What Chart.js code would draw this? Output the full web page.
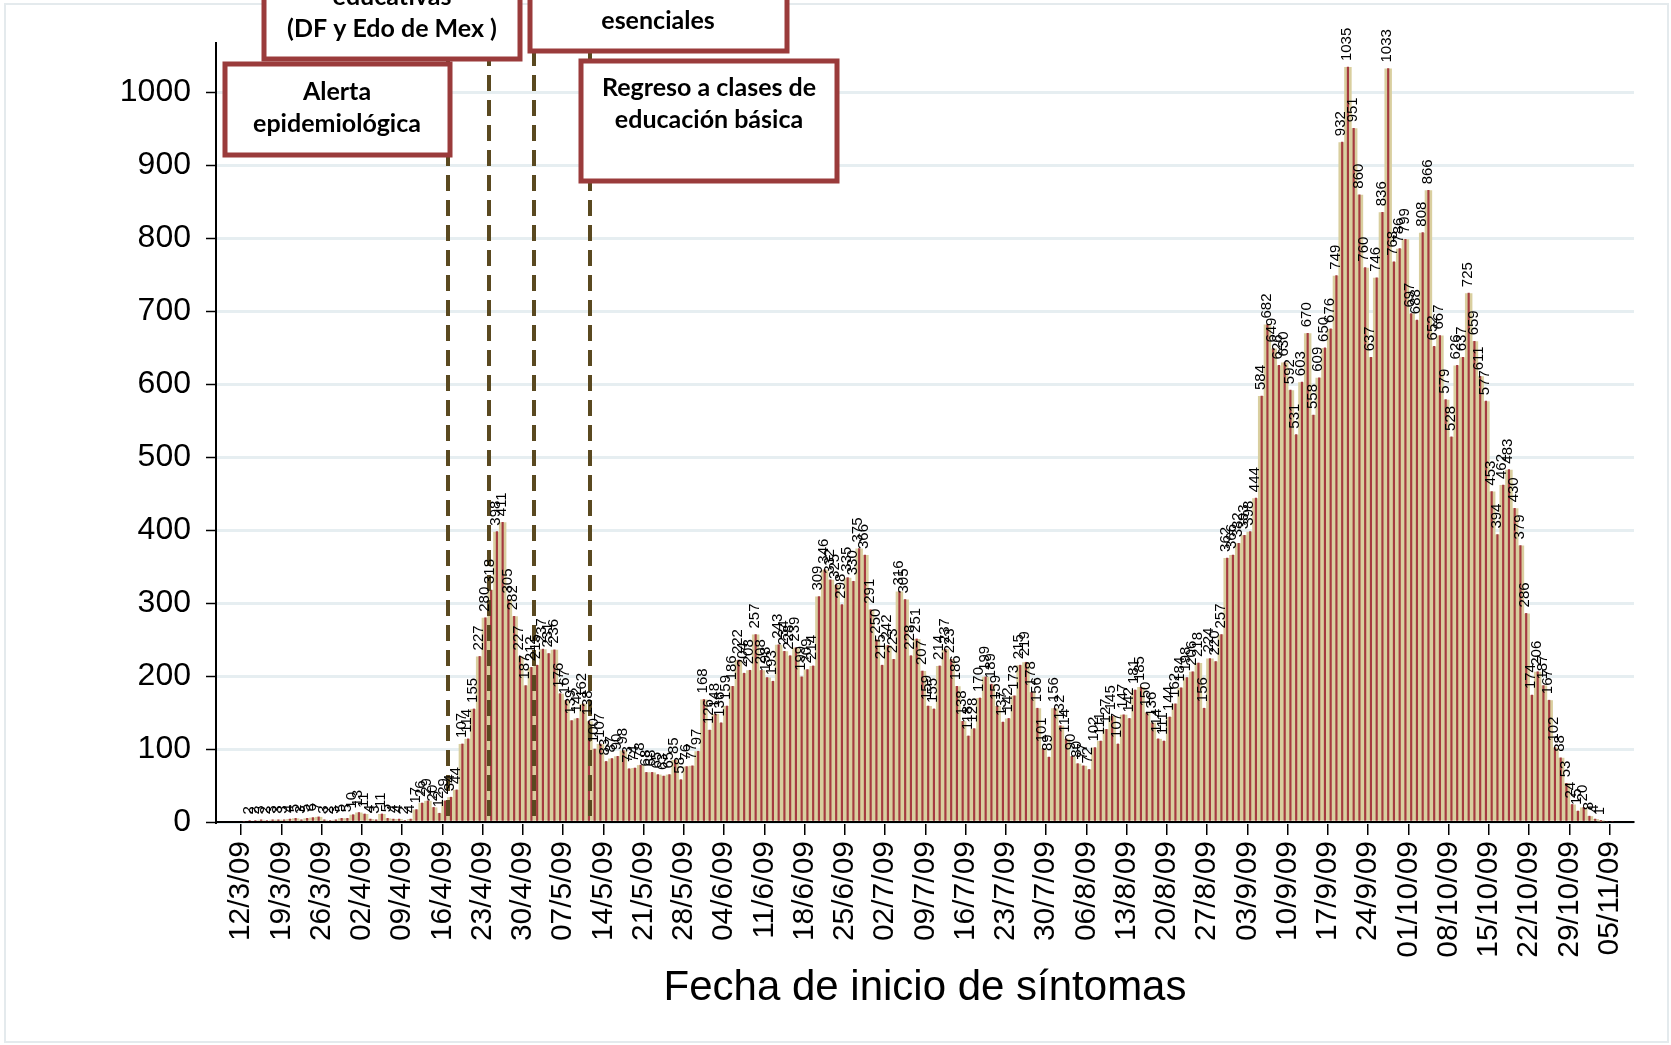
<!DOCTYPE html>
<html>
<head>
<meta charset="utf-8">
<script src="https://cdn.jsdelivr.net/npm/chart.js@4.4.1/dist/chart.umd.min.js"></script>
<style>
  html, body { margin: 0; padding: 0; background: #fff; }
  #wrap { width: 1671px; height: 1045px; }
</style>
</head>
<body>
<div id="wrap"><canvas id="casesChart" width="1671" height="1045"></canvas></div>
<script>
  // casos diarios por fecha de inicio de sintomas, desde 12/3/09
  const casesMar = [0, 2, 2, 3, 2, 3, 3, 3, 4, 5, 3, 5, 6, 7, 3, 2, 3, 5, 5, 10];
  const casesApr = [13, 11, 4, 3, 11, 5, 4, 4, 2, 4, 17, 26, 29, 20, 12, 29, 34, 44, 107, 114,
    155, 227, 280, 318, 398, 411, 305, 282, 227, 187];
  const casesMay = [212, 215, 237, 231, 236, 176, 167, 139, 142, 162, 138, 100, 107, 83, 87, 90,
    98, 73, 74, 78, 68, 68, 65, 63, 65, 85, 58, 76, 77, 97, 168];
  const casesJun = [126, 148, 136, 159, 186, 222, 204, 208, 257, 208, 198, 193, 243, 234, 228,
    239, 199, 209, 214, 309, 346, 332, 325, 298, 335, 330, 375, 366, 291, 250];
  const casesJul = [215, 242, 223, 316, 305, 228, 251, 207, 159, 155, 214, 237, 223, 186, 138,
    118, 128, 170, 199, 189, 159, 137, 142, 173, 215, 219, 178, 156, 101, 89, 156];
  const casesAug = [132, 114, 90, 80, 77, 72, 102, 111, 127, 145, 107, 147, 142, 181, 185, 150,
    136, 114, 111, 144, 162, 184, 198, 206, 218, 156, 224, 220, 257, 362, 366];
  const casesSep = [382, 393, 398, 444, 584, 682, 649, 626, 630, 592, 531, 603, 670, 558, 609,
    650, 676, 749, 932, 1035, 951, 860, 760, 637, 746, 836, 1033, 768, 786, 799];
  const casesOct = [697, 688, 808, 866, 652, 667, 579, 528, 626, 637, 725, 659, 611, 577, 453,
    394, 462, 483, 430, 379, 286, 174, 206, 187, 167, 102, 88, 53, 24, 15, 20];
  const casesNov = [8, 4, 1, 0, 0];

  const cases = [].concat(casesMar, casesApr, casesMay, casesJun, casesJul,
    casesAug, casesSep, casesOct, casesNov);

  // una etiqueta cada 7 dias
  const tickLabels = ["12/3/09", "19/3/09", "26/3/09", "02/4/09", "09/4/09", "16/4/09",
    "23/4/09", "30/4/09", "07/5/09", "14/5/09", "21/5/09", "28/5/09", "04/6/09", "11/6/09",
    "18/6/09", "25/6/09", "02/7/09", "09/7/09", "16/7/09", "23/7/09", "30/7/09", "06/8/09",
    "13/8/09", "20/8/09", "27/8/09", "03/9/09", "10/9/09", "17/9/09", "24/9/09", "01/10/09",
    "08/10/09", "15/10/09", "22/10/09", "29/10/09", "05/11/09"];

  // dias (desde 12/3/09) de las lineas punteadas
  const eventDays = [36.0, 43.2, 51.0, 60.7];

  const noteTexts = [
    ["Alerta", "epidemiológica"],
    ["educativas", "(DF y Edo de Mex )"],
    ["esenciales"],
    ["Regreso a clases de", "educación básica"],
  ];

  const TAN = "#d9cf9f";
  const RED = "#a53a40";
  const FONT = "Liberation Sans";
  Chart.defaults.font.family = FONT;

  // cada barra cubre su dia, centrada a medio dia
  const points = cases.map((v, i) => ({ x: i + 0.5, y: v }));

  const background = {
    id: "background",
    beforeDraw(chart) {
      const { ctx, width, height } = chart;
      ctx.save();
      ctx.fillStyle = "#fff";
      ctx.fillRect(0, 0, width, height);
      ctx.strokeStyle = "#e4eaed";
      ctx.lineWidth = 2;
      ctx.strokeRect(5, 4, width - 8, height - 7);
      ctx.restore();
    },
  };

  const valueLabels = {
    id: "valueLabels",
    afterDatasetsDraw(chart) {
      const { ctx } = chart;
      const meta = chart.getDatasetMeta(0);
      ctx.save();
      ctx.fillStyle = "#000";
      ctx.font = `15px "${FONT}"`;
      ctx.textAlign = "left";
      ctx.textBaseline = "middle";
      meta.data.forEach((bar, i) => {
        const v = cases[i];
        if (!v) return;
        ctx.save();
        ctx.translate(bar.x - 1, bar.y - 6);
        ctx.rotate(-Math.PI / 2);
        ctx.fillText(String(v), 0, 0);
        ctx.restore();
      });
      ctx.restore();
    },
  };

  const eventLines = {
    id: "eventLines",
    afterDatasetsDraw(chart) {
      const { ctx, scales: { x, y } } = chart;
      ctx.save();
      ctx.strokeStyle = "#5a4920";
      ctx.lineWidth = 4;
      ctx.setLineDash([16, 9]);
      for (const d of eventDays) {
        const px = Math.round(x.getPixelForValue(d));
        ctx.beginPath();
        ctx.moveTo(px, 0);
        ctx.lineTo(px, y.getPixelForValue(0));
        ctx.stroke();
      }
      ctx.restore();
    },
  };

  // cuadros de anotacion: [x0, y0, x1, y1], centro del texto y renglones
  const noteLayout = [
    { box: [225, 64, 450, 155], cx: 337, ys: [92, 124] },
    { box: [264, -10, 520, 59], cx: 392, ys: [-3, 29] },
    { box: [530, -10, 787, 51], cx: 658, ys: [21] },
    { box: [581, 61, 837, 181], cx: 709, ys: [88, 120] },
  ];

  const notes = {
    id: "notes",
    afterDraw(chart) {
      const { ctx } = chart;
      ctx.save();
      noteLayout.forEach((n, k) => {
        const [x0, y0, x1, y1] = n.box;
        ctx.fillStyle = "#fff";
        ctx.fillRect(x0, y0, x1 - x0, y1 - y0);
        ctx.strokeStyle = "#9a3b3b";
        ctx.lineWidth = 5;
        ctx.strokeRect(x0, y0, x1 - x0, y1 - y0);
        ctx.fillStyle = "#000";
        ctx.font = "bold 25px Lato";
        ctx.textAlign = "center";
        ctx.textBaseline = "middle";
        noteTexts[k].forEach((t, j) => ctx.fillText(t, n.cx, n.ys[j]));
      });
      ctx.restore();
    },
  };

  new Chart(document.getElementById("casesChart"), {
    type: "bar",
    data: {
      datasets: [
        {
          label: "Casos",
          data: points,
          backgroundColor: TAN,
          barPercentage: 1.3,
          categoryPercentage: 1,
          grouped: false,
          order: 2,
        },
        {
          label: "Casos (linea)",
          data: points,
          backgroundColor: RED,
          barThickness: 1.5,
          grouped: false,
          order: 1,
        },
      ],
    },
    options: {
      responsive: false,
      animation: false,
      layout: { padding: { top: 43, right: 37, left: 0, bottom: 0 } },
      plugins: {
        legend: { display: false },
        tooltip: { enabled: false },
      },
      scales: {
        x: {
          type: "linear",
          min: -4.35,
          max: 242.25,
          offset: false,
          grid: {
            offset: false,
            drawOnChartArea: false,
            tickLength: 13,
            color: "#000",
            lineWidth: 1.5,
          },
          border: { color: "#000", width: 2 },
          ticks: {
            autoSkip: false,
            minRotation: 90,
            maxRotation: 90,
            padding: 6,
            color: "#000",
            font: { size: 30 },
            callback: (v) => tickLabels[Math.round(v / 7)] || "",
          },
          afterBuildTicks: (s) => {
            s.ticks = tickLabels.map((_, k) => ({ value: k * 7 }));
          },
          afterFit: (s) => {
            s.height = 223;
          },
          title: {
            display: true,
            text: "Fecha de inicio de síntomas",
            color: "#000",
            font: { size: 42 },
            padding: { top: 0, bottom: 31 },
          },
        },
        y: {
          min: 0,
          max: 1068,
          grid: {
            color: "#e6eef1",
            lineWidth: 3,
            tickColor: "#000",
            tickLength: 10,
            tickWidth: 1.5,
          },
          border: { color: "#000", width: 2 },
          ticks: {
            stepSize: 100,
            padding: 15,
            color: "#000",
            font: { size: 32 },
            callback: (v) => String(v),
          },
          afterBuildTicks: (s) => {
            s.ticks = s.ticks.filter((t) => t.value % 100 === 0);
          },
          afterFit: (s) => {
            s.width = 216;
          },
        },
      },
    },
    plugins: [background, eventLines, valueLabels, notes],
  });
</script>
</body>
</html>
